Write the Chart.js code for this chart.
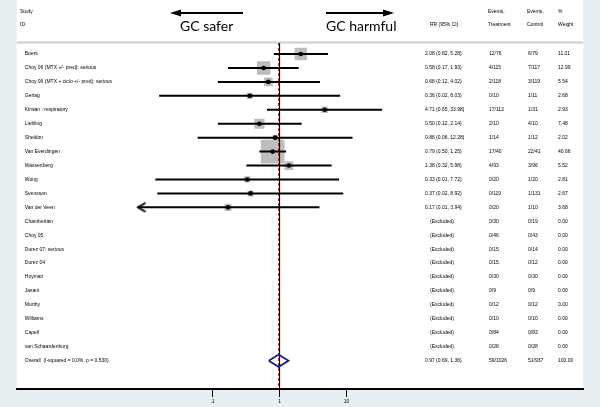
<!DOCTYPE html>
<html><head><meta charset="utf-8">
<script src="https://cdn.jsdelivr.net/npm/chart.js@4.4.1/dist/chart.umd.min.js"></script>
<style>
html,body{margin:0;padding:0;background:#e8eff2;}
#wrap{width:600px;height:407px;position:relative;}
</style></head><body>
<div id="wrap"><canvas id="c" width="600" height="407"></canvas></div>
<script>
// ---------- data ----------
const studies = [
  "Boers",
  "Choy 06 (MTX +/- pred): serious",
  "Choy 06 (MTX + ciclo +/- pred): serious",
  "Gerlag",
  "Kirwan : respiratory",
  "Liebling",
  "Sheldon",
  "Van Everdingen",
  "Wassenberg",
  "Wong",
  "Svensson",
  "Van der Veen",
  "Chamberlain",
  "Choy 05",
  "Durez 07: serious",
  "Durez 04",
  "Hoyman",
  "Jasani",
  "Murthy",
  "Williams",
  "Capell",
  "van Schaardenburg"
];
const overallLabel = "Overall  (I-squared = 0.0%, p = 0.530)";

// risk ratios and 95% CI (null = excluded, no events)
const rr     = [2.08, 0.58, 0.68, 0.36, 4.71, 0.50, 0.86, 0.79, 1.38, 0.33, 0.37, 0.17, null, null, null, null, null, null, null, null, null, null];
const ciLow  = [0.82, 0.17, 0.12, 0.016, 0.65, 0.12, 0.06, 0.50, 0.32, 0.014, 0.015, 0.007, null, null, null, null, null, null, null, null, null, null];
const ciHigh = [5.28, 1.93, 4.02, 8.03, 33.98, 2.14, 12.28, 1.25, 5.98, 7.72, 8.92, 3.94, null, null, null, null, null, null, null, null, null, null];
const ciText = ["2.08 (0.82, 5.28)", "0.58 (0.17, 1.93)", "0.68 (0.12, 4.02)", "0.36 (0.02, 8.03)", "4.71 (0.65, 33.98)",
  "0.50 (0.12, 2.14)", "0.86 (0.06, 12.28)", "0.79 (0.50, 1.25)", "1.38 (0.32, 5.98)", "0.33 (0.01, 7.72)",
  "0.37 (0.02, 8.92)", "0.17 (0.01, 3.94)"];
const eventsTreatment = ["12/76", "4/115", "2/118", "0/10", "17/112", "2/10", "1/14", "17/40", "4/93", "0/20", "0/119", "0/20",
  "0/30", "0/46", "0/15", "0/15", "0/30", "0/9", "0/12", "0/10", "0/84", "0/28"];
const eventsControl = ["6/79", "7/117", "3/119", "1/11", "1/31", "4/10", "1/12", "22/41", "3/96", "1/20", "1/131", "1/10",
  "0/19", "0/43", "0/14", "0/12", "0/30", "0/9", "0/12", "0/10", "0/83", "0/28"];
const weights = [11.01, 12.99, 5.54, 2.68, 2.93, 7.48, 2.02, 40.66, 5.52, 2.81, 2.67, 3.68, 0, 0, 0, 0, 0, 0, 0, 0, 0, 0];

const overallRR = 0.97, overallLow = 0.69, overallHigh = 1.36;
const overallText = "0.97 (0.69, 1.36)";
const overallTreatment = "59/1026";
const overallControl = "51/937";
const overallWeight = 100;

const xTicks = [0.1, 1, 10];
const xTickLabels = [".1", "1", "10"];

// ---------- display settings ----------
const X_MIN = 1.2e-4, X_MAX = 3.4e4;          // axis range (log)
const CI_MIN = 0.0076, CI_MAX = 40;            // CI lines clipped here (arrow)
const Y_MIN = -0.79, Y_MAX = 24.03;            // rows
const BOX_K = 3.72;                            // box side per sqrt(weight)
const DIAMOND_H = 0.44;
const SMALL = "'Liberation Sans', Arial, sans-serif";

const rows = studies.concat([overallLabel]);
const OVERALL_ROW = studies.length;

// ---------- datasets ----------
const idx = studies.map((s, i) => i).filter(i => rr[i] !== null);
const boxData = idx.map(i => ({x: rr[i], y: i, w: weights[i]}));
const dotData = idx.map(i => ({x: rr[i], y: i}));
const ciData = idx.map(i => ({y: i, x: [Math.max(ciLow[i], CI_MIN), Math.min(ciHigh[i], CI_MAX)]}));
const leftArrows = idx.filter(i => ciLow[i] < CI_MIN).map(i => ({x: CI_MIN, y: i}));
const rightArrows = idx.filter(i => ciHigh[i] > CI_MAX).map(i => ({x: CI_MAX, y: i}));

function chevron() {
  const c = document.createElement('canvas');
  c.width = 20; c.height = 12;
  const g = c.getContext('2d');
  g.strokeStyle = '#000'; g.lineWidth = 2; g.lineJoin = 'miter';
  g.beginPath(); g.moveTo(18, 1.5); g.lineTo(10.6, 6); g.lineTo(18, 10.5); g.stroke();
  return c;
}
const chev = chevron();

const panelPlugin = {
  id: 'panel',
  beforeDraw(chart) {
    const {ctx, chartArea: a} = chart;
    ctx.save();
    ctx.fillStyle = '#ffffff';
    ctx.fillRect(a.left, 0, a.right - a.left, a.bottom);
    ctx.fillStyle = '#cdcdcd';
    ctx.fillRect(a.left, a.top - 1.5, a.right - a.left, 2);
    ctx.restore();
  },
  afterDraw(chart) {
    const {ctx} = chart;
    const ys = chart.scales.y;
    ctx.save();
    ctx.fillStyle = '#000';
    ctx.textBaseline = 'middle';
    ctx.textAlign = 'left';
    ctx.font = "5px " + SMALL;
    // header
    ctx.fillText("Study", 20, 12);
    ctx.fillText("ID", 20, 25);
    ctx.fillText("RR (95% CI)", 430, 25);
    ctx.fillText("Events,", 488, 12);
    ctx.fillText("Treatment", 488, 25);
    ctx.fillText("Events,", 527, 12);
    ctx.fillText("Control", 527, 25);
    ctx.fillText("%", 558, 12);
    ctx.fillText("Weight", 558, 25);
    // columns
    studies.forEach((s, i) => {
      const y = ys.getPixelForValue(i);
      if (rr[i] !== null) ctx.fillText(ciText[i], 425, y);
      else ctx.fillText("(Excluded)", 430, y);
      ctx.fillText(eventsTreatment[i], 489, y);
      ctx.fillText(eventsControl[i], 528, y);
      ctx.fillText(weights[i].toFixed(2), 558, y);
    });
    const yo = ys.getPixelForValue(OVERALL_ROW);
    ctx.fillText(overallText, 425, yo);
    ctx.fillText(overallTreatment, 489, yo);
    ctx.fillText(overallControl, 528, yo);
    ctx.fillText(overallWeight.toFixed(2), 558, yo);

    // direction arrows and labels
    ctx.strokeStyle = '#000'; ctx.lineWidth = 2.2;
    ctx.beginPath(); ctx.moveTo(243, 13); ctx.lineTo(178, 13); ctx.stroke();
    ctx.beginPath(); ctx.moveTo(170, 13); ctx.lineTo(181, 9.6); ctx.lineTo(181, 16.4); ctx.closePath(); ctx.fill();
    ctx.beginPath(); ctx.moveTo(326, 13); ctx.lineTo(386, 13); ctx.stroke();
    ctx.beginPath(); ctx.moveTo(394, 13); ctx.lineTo(383, 9.6); ctx.lineTo(383, 16.4); ctx.closePath(); ctx.fill();
    ctx.font = "14px Lato, 'Liberation Sans', sans-serif";
    ctx.textBaseline = 'alphabetic';
    ctx.fillText("GC safer", 180, 31);
    ctx.fillText("GC harmful", 326, 31);
    ctx.restore();
  }
};

new Chart(document.getElementById('c'), {
  type: 'scatter',
  data: {
    datasets: [
      { type: 'scatter', data: boxData, pointStyle: 'rect', backgroundColor: '#bdbdbd', borderWidth: 0,
        pointRadius: c => c.raw ? BOX_K * Math.sqrt(c.raw.w) / Math.SQRT2 : 0, order: 10 },
      { type: 'scatter', data: [{x: 1, y: Y_MIN}, {x: 1, y: Y_MAX}], showLine: true, borderColor: '#000',
        borderWidth: 1, pointRadius: 0, fill: false, order: 9 },
      { type: 'scatter', data: [{x: overallRR, y: Y_MIN}, {x: overallRR, y: Y_MAX}], showLine: true, borderColor: '#a01818',
        borderWidth: 1, borderDash: [3, 2], pointRadius: 0, fill: false, order: 8 },
      { type: 'bar', indexAxis: 'y', data: ciData, barThickness: 2, inflateAmount: 0, backgroundColor: '#000', borderWidth: 0, order: 7 },
      { type: 'scatter', data: dotData, pointStyle: 'circle', pointRadius: 2.3, backgroundColor: '#000', borderColor: '#000', borderWidth: 0, order: 2 },
      { type: 'scatter', data: leftArrows, pointStyle: chev, pointRadius: 5, order: 5 },
      { type: 'scatter', data: rightArrows, pointStyle: chev, rotation: 180, pointRadius: 5, order: 5 },
      { type: 'scatter', showLine: true, fill: false, pointRadius: 0, borderColor: '#1b1f84', borderWidth: 1.8,
        borderJoinStyle: 'miter', order: 4,
        data: [{x: overallLow, y: OVERALL_ROW}, {x: overallRR, y: OVERALL_ROW - DIAMOND_H},
               {x: overallHigh, y: OVERALL_ROW}, {x: overallRR, y: OVERALL_ROW + DIAMOND_H},
               {x: overallLow, y: OVERALL_ROW}] }
    ]
  },
  options: {
    responsive: false,
    devicePixelRatio: 1,
    animation: false,
    layout: { padding: { left: 12, right: 13, top: 43, bottom: 0 } },
    plugins: { legend: { display: false }, tooltip: { enabled: false } },
    scales: {
      x: {
        type: 'logarithmic', position: 'bottom', min: X_MIN, max: X_MAX, offset: false, bounds: 'data',
        afterBuildTicks: s => { s.ticks = xTicks.map(v => ({value: v})); },
        afterFit: s => { s.height = 18; },
        ticks: { autoSkip: false, maxRotation: 0, padding: 2, color: '#000',
          font: { family: SMALL, size: 5 },
          callback: v => xTickLabels[xTicks.indexOf(v)] },
        grid: { display: true, drawOnChartArea: false, drawTicks: true, tickLength: 8, color: '#000', lineWidth: 1 },
        border: { display: true, color: '#000', width: 2 }
      },
      y: {
        type: 'linear', position: 'left', reverse: true, min: Y_MIN, max: Y_MAX, offset: false,
        afterBuildTicks: s => { s.ticks = rows.map((r, i) => ({value: i})); },
        afterFit: s => { s.width = 0; },
        ticks: { mirror: true, padding: 8, autoSkip: false, color: '#000',
          font: { family: SMALL, size: 5 },
          callback: v => rows[v] },
        grid: { display: false, drawTicks: false },
        border: { display: false }
      }
    }
  },
  plugins: [panelPlugin]
});
</script>
</body></html>
